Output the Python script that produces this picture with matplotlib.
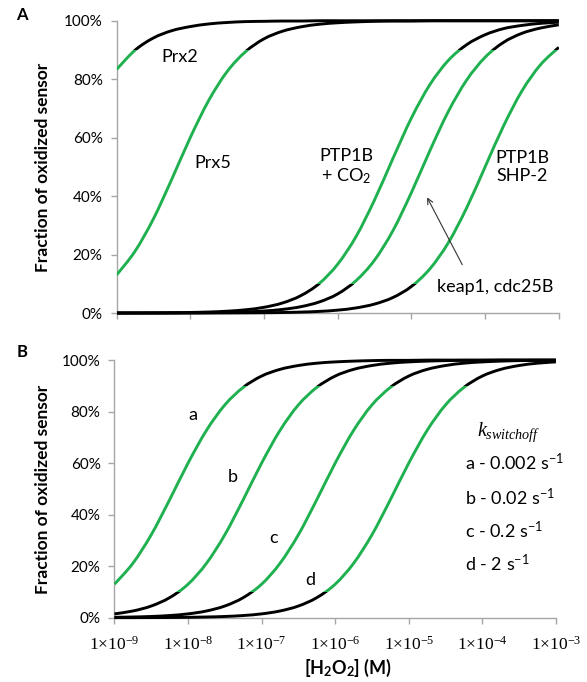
"""Fraction of oxidized sensor versus H2O2 concentration (two panels)."""

import numpy as np
import matplotlib
matplotlib.use('Agg')
import matplotlib.pyplot as plt
from matplotlib.patches import Rectangle, PathPatch
from matplotlib.path import Path

plt.rcParams['font.family'] = ['Lato', 'DejaVu Sans']
plt.rcParams['mathtext.fontset'] = 'custom'
plt.rcParams['mathtext.rm'] = 'Liberation Serif'
plt.rcParams['mathtext.it'] = 'Liberation Serif:italic'
plt.rcParams['mathtext.sf'] = 'Lato'
plt.rcParams['mathtext.bf'] = 'Lato:bold'

# H2O2 concentration grid, quarter-decade steps from 1e-9 to 1e-3 M
h2o2 = np.logspace(-9, -3, 25)

# Panel A, fraction of oxidized sensor
prx2 = [0.833, 0.899, 0.941, 0.966, 0.980, 0.989, 0.994, 0.997, 0.998,
        0.999, 0.999, 1.0, 1.0, 1.0, 1.0, 1.0, 1.0, 1.0, 1.0, 1.0, 1.0,
        1.0, 1.0, 1.0, 1.0]
prx5 = [0.130, 0.211, 0.322, 0.458, 0.600, 0.727, 0.826, 0.894, 0.938,
        0.964, 0.979, 0.988, 0.993, 0.996, 0.998, 0.999, 0.999, 1.0, 1.0,
        1.0, 1.0, 1.0, 1.0, 1.0, 1.0]
ptp1b_co2 = [0.0002, 0.0004, 0.0006, 0.0011, 0.0020, 0.0035, 0.0063,
             0.0111, 0.0196, 0.0343, 0.0595, 0.101, 0.167, 0.262, 0.387,
             0.529, 0.667, 0.781, 0.864, 0.918, 0.952, 0.973, 0.984,
             0.991, 0.995]
keap1 = [0.0001, 0.0001, 0.0002, 0.0004, 0.0007, 0.0012, 0.0022, 0.0039,
         0.0070, 0.0123, 0.0217, 0.0379, 0.0654, 0.111, 0.181, 0.282,
         0.412, 0.555, 0.689, 0.797, 0.875, 0.926, 0.957, 0.975, 0.986]
ptp1b_shp2 = [0.0, 0.0, 0.0, 0.0001, 0.0001, 0.0002, 0.0003, 0.0006,
              0.0010, 0.0018, 0.0032, 0.0056, 0.0099, 0.0175, 0.0307,
              0.0532, 0.0909, 0.151, 0.240, 0.360, 0.500, 0.640, 0.760,
              0.849, 0.909]

# Panel B, same sensor with different switch-off rate constants
curve_a = prx5
curve_b = [0.0148, 0.0260, 0.0453, 0.0778, 0.130, 0.211, 0.322, 0.458,
           0.600, 0.727, 0.826, 0.894, 0.938, 0.964, 0.979, 0.988, 0.993,
           0.996, 0.998, 0.999, 0.999, 1.0, 1.0, 1.0, 1.0]
curve_c = [0.0015, 0.0027, 0.0047, 0.0084, 0.0148, 0.0260, 0.0453, 0.0778,
           0.130, 0.211, 0.322, 0.458, 0.600, 0.727, 0.826, 0.894, 0.938,
           0.964, 0.979, 0.988, 0.993, 0.996, 0.998, 0.999, 0.999]
curve_d = [0.0002, 0.0003, 0.0005, 0.0008, 0.0015, 0.0027, 0.0047, 0.0084,
           0.0148, 0.0260, 0.0453, 0.0778, 0.130, 0.211, 0.322, 0.458,
           0.600, 0.727, 0.826, 0.894, 0.938, 0.964, 0.979, 0.988, 0.993]

x_tick_labels = ['1\u00d710$^{\\mathrm{-%d}}$' % i for i in range(9, 2, -1)]
k_labels = ['a - 0.002 s$^{\\mathsf{-1}}$', 'b - 0.02 s$^{\\mathsf{-1}}$',
            'c - 0.2 s$^{\\mathsf{-1}}$', 'd - 2 s$^{\\mathsf{-1}}$']

GREEN = '#1fb04f'
GRAY = '#a6a6a6'


def smooth_path(x, y):
    """Smoothed line through the points (like a spreadsheet smoothed line),
    built as cubic Bezier segments in log-x space."""
    u = np.log10(x)
    y = np.asarray(y, dtype=float)
    pts = np.column_stack([u, y])
    ext = np.vstack([pts[0], pts, pts[-1]])
    verts = [pts[0]]
    codes = [Path.MOVETO]
    for i in range(len(pts) - 1):
        p0, p1, p2, p3 = ext[i], ext[i + 1], ext[i + 2], ext[i + 3]
        verts += [p1 + (p2 - p0) / 6.0, p2 - (p3 - p1) / 6.0, p2]
        codes += [Path.CURVE4] * 3
    verts = np.array(verts)
    verts[:, 0] = 10.0 ** verts[:, 0]
    return Path(verts, codes)


def draw_curve(ax, y):
    """Black curve, green where the fraction is between 10% and 90%."""
    path = smooth_path(h2o2, y)
    clips = [((0, -0.1), 0.2, 'black'), ((0, 0.1), 0.8, GREEN),
             ((0, 0.9), 0.2, 'black')]
    for (x0, y0), height, color in clips:
        patch = PathPatch(path, fill=False, edgecolor=color, lw=2.1,
                          capstyle='butt', zorder=3)
        ax.add_patch(patch)
        patch.set_clip_path(Rectangle((x0, y0), 1, height,
                                      transform=ax.get_yaxis_transform()))


def style_axes(ax):
    ax.set_xscale('log')
    ax.set_xlim(1e-9, 1e-3)
    ax.set_ylim(0, 1.0)
    ax.set_yticks(np.arange(0, 1.01, 0.2))
    ax.set_yticklabels(['%d%%' % v for v in range(0, 101, 20)], fontsize=11)
    ax.set_xticks(h2o2[::4])
    ax.minorticks_off()
    for side in ('top', 'right'):
        ax.spines[side].set_visible(False)
    for side in ('left', 'bottom'):
        ax.spines[side].set_color(GRAY)
        ax.spines[side].set_linewidth(1.0)
    ax.tick_params(axis='both', colors=GRAY, length=4, width=1.0)
    ax.tick_params(axis='y', labelcolor='black', pad=6)
    ax.tick_params(axis='x', labelcolor='black', pad=9)
    ax.patch.set_alpha(0)


fig = plt.figure(figsize=(5.87, 6.82), dpi=100)
ax_a = fig.add_axes([0.1985, 0.541, 0.7535, 0.4286])
ax_b = fig.add_axes([0.195, 0.0943, 0.752, 0.3777])

for ax in (ax_a, ax_b):
    style_axes(ax)

for y in (prx2, prx5, ptp1b_co2, keap1, ptp1b_shp2):
    draw_curve(ax_a, y)
ax_a.set_xticklabels([])

for y in (curve_a, curve_b, curve_c, curve_d):
    draw_curve(ax_b, y)
ax_b.set_xticklabels(x_tick_labels, fontsize=12.5,
                     fontfamily=['Liberation Serif', 'DejaVu Serif'])

# Panel A annotations
fs = 13
ax_a.text(7.2e-9, 0.876, 'Prx2', fontsize=fs, ha='center', va='center')
ax_a.text(2.0e-8, 0.513, 'Prx5', fontsize=fs, ha='center', va='center')
ax_a.text(1.32e-6, 0.498, 'PTP1B\n+ CO$_{\\mathsf{2}}$', fontsize=fs,
          ha='center', va='center', linespacing=1.15)
ax_a.text(3.2e-4, 0.498, 'PTP1B\nSHP-2', fontsize=fs, ha='center',
          va='center', linespacing=1.15)
ax_a.text(1.35e-4, 0.089, 'keap1, cdc25B', fontsize=fs, ha='center',
          va='center')
ax_a.annotate('', xy=(1.57e-5, 0.404), xytext=(5.1e-5, 0.157),
              arrowprops=dict(arrowstyle='->', color='#333333', lw=0.8))

# Panel B annotations
for label, xp, yp in (('a', 1.15e-8, 0.787), ('b', 4.0e-8, 0.546),
                      ('c', 1.45e-7, 0.309), ('d', 4.6e-7, 0.146)):
    ax_b.text(xp, yp, label, fontsize=fs, ha='center', va='center')
ax_b.text(2.3e-4, 0.72, r'$k_{switchoff}$', fontsize=14.5, ha='center',
          va='center')
for label, yp in zip(k_labels, (0.604, 0.468, 0.340, 0.212)):
    ax_b.text(5.9e-5, yp, label, fontsize=fs, ha='left', va='center')

# Axis titles and panel letters
for yc in (0.755, 0.283):
    fig.text(0.073, yc, 'Fraction of oxidized sensor', rotation=90,
             fontsize=12.5, fontweight='bold', ha='center', va='center')
fig.text(0.593, 0.021, r'[H$_{\mathbf{2}}$O$_{\mathbf{2}}$] (M)',
         fontsize=13, fontweight='bold', ha='center', va='center')
fig.text(0.037, 0.978, 'A', fontsize=12, fontweight='bold', ha='center',
         va='center')
fig.text(0.037, 0.484, 'B', fontsize=12, fontweight='bold', ha='center',
         va='center')

fig.savefig('out.png', dpi=100)
